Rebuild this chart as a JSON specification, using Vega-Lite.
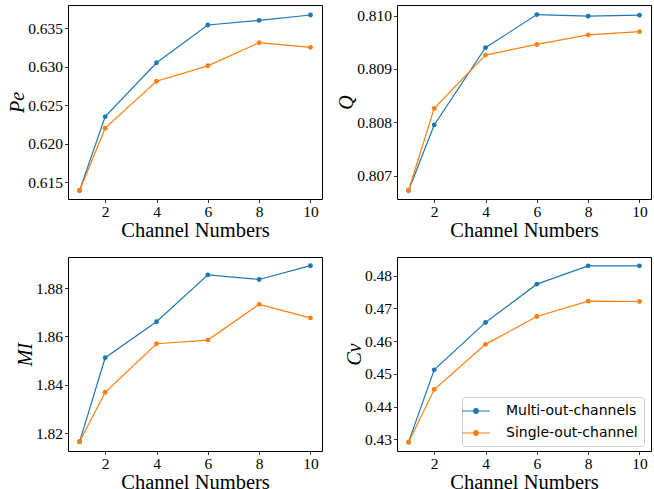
{
  "$schema": "https://vega.github.io/schema/vega-lite/v6.json",
  "autosize": {"type": "none"},
  "padding": {"left": 68, "top": 5, "right": 586, "bottom": 484},
  "background": "white",
  "config": {
    "view": {"stroke": "black", "strokeWidth": 1},
    "style": {"guide-label": {"font": "Liberation Serif", "fontSize": 15.5, "fill": "black"}, "guide-title": {"font": "Liberation Serif", "fill": "black"}},
    "axis": {
      "labelFont": "Liberation Serif", "labelFontSize": 15.5, "labelColor": "black",
      "tickColor": "black", "tickSize": 3.5, "tickWidth": 0.8, "domain": false, "grid": false,
      "titleFont": "Liberation Serif", "titleFontWeight": "normal", "titleColor": "black", "labelPadding": 2
    }
  },
  "data": {"values": [
    {"metric": "Pe", "channels": 1, "series": "Multi-out-channels", "value": 0.6139},
    {"metric": "Pe", "channels": 2, "series": "Multi-out-channels", "value": 0.6235},
    {"metric": "Pe", "channels": 4, "series": "Multi-out-channels", "value": 0.6305},
    {"metric": "Pe", "channels": 6, "series": "Multi-out-channels", "value": 0.6354},
    {"metric": "Pe", "channels": 8, "series": "Multi-out-channels", "value": 0.6360},
    {"metric": "Pe", "channels": 10, "series": "Multi-out-channels", "value": 0.6367},
    {"metric": "Pe", "channels": 1, "series": "Single-out-channel", "value": 0.6139},
    {"metric": "Pe", "channels": 2, "series": "Single-out-channel", "value": 0.6220},
    {"metric": "Pe", "channels": 4, "series": "Single-out-channel", "value": 0.6281},
    {"metric": "Pe", "channels": 6, "series": "Single-out-channel", "value": 0.6301},
    {"metric": "Pe", "channels": 8, "series": "Single-out-channel", "value": 0.6331},
    {"metric": "Pe", "channels": 10, "series": "Single-out-channel", "value": 0.6325},
    {"metric": "Q", "channels": 1, "series": "Multi-out-channels", "value": 0.80672},
    {"metric": "Q", "channels": 2, "series": "Multi-out-channels", "value": 0.80795},
    {"metric": "Q", "channels": 4, "series": "Multi-out-channels", "value": 0.80940},
    {"metric": "Q", "channels": 6, "series": "Multi-out-channels", "value": 0.81002},
    {"metric": "Q", "channels": 8, "series": "Multi-out-channels", "value": 0.80999},
    {"metric": "Q", "channels": 10, "series": "Multi-out-channels", "value": 0.81001},
    {"metric": "Q", "channels": 1, "series": "Single-out-channel", "value": 0.80672},
    {"metric": "Q", "channels": 2, "series": "Single-out-channel", "value": 0.80826},
    {"metric": "Q", "channels": 4, "series": "Single-out-channel", "value": 0.80926},
    {"metric": "Q", "channels": 6, "series": "Single-out-channel", "value": 0.80946},
    {"metric": "Q", "channels": 8, "series": "Single-out-channel", "value": 0.80964},
    {"metric": "Q", "channels": 10, "series": "Single-out-channel", "value": 0.80970},
    {"metric": "MI", "channels": 1, "series": "Multi-out-channels", "value": 1.8164},
    {"metric": "MI", "channels": 2, "series": "Multi-out-channels", "value": 1.8512},
    {"metric": "MI", "channels": 4, "series": "Multi-out-channels", "value": 1.8661},
    {"metric": "MI", "channels": 6, "series": "Multi-out-channels", "value": 1.8855},
    {"metric": "MI", "channels": 8, "series": "Multi-out-channels", "value": 1.8836},
    {"metric": "MI", "channels": 10, "series": "Multi-out-channels", "value": 1.8893},
    {"metric": "MI", "channels": 1, "series": "Single-out-channel", "value": 1.8164},
    {"metric": "MI", "channels": 2, "series": "Single-out-channel", "value": 1.8369},
    {"metric": "MI", "channels": 4, "series": "Single-out-channel", "value": 1.8570},
    {"metric": "MI", "channels": 6, "series": "Single-out-channel", "value": 1.8585},
    {"metric": "MI", "channels": 8, "series": "Single-out-channel", "value": 1.8733},
    {"metric": "MI", "channels": 10, "series": "Single-out-channel", "value": 1.8677},
    {"metric": "Cv", "channels": 1, "series": "Multi-out-channels", "value": 0.4291},
    {"metric": "Cv", "channels": 2, "series": "Multi-out-channels", "value": 0.4512},
    {"metric": "Cv", "channels": 4, "series": "Multi-out-channels", "value": 0.4657},
    {"metric": "Cv", "channels": 6, "series": "Multi-out-channels", "value": 0.4774},
    {"metric": "Cv", "channels": 8, "series": "Multi-out-channels", "value": 0.4830},
    {"metric": "Cv", "channels": 10, "series": "Multi-out-channels", "value": 0.4830},
    {"metric": "Cv", "channels": 1, "series": "Single-out-channel", "value": 0.4291},
    {"metric": "Cv", "channels": 2, "series": "Single-out-channel", "value": 0.4452},
    {"metric": "Cv", "channels": 4, "series": "Single-out-channel", "value": 0.4590},
    {"metric": "Cv", "channels": 6, "series": "Single-out-channel", "value": 0.4675},
    {"metric": "Cv", "channels": 8, "series": "Single-out-channel", "value": 0.4722},
    {"metric": "Cv", "channels": 10, "series": "Single-out-channel", "value": 0.4721}
  ]},
  "columns": 2,
  "bounds": "flush",
  "spacing": {"row": 58, "column": 75},
  "resolve": {"scale": {"y": "independent"}, "legend": {"color": "independent"}},
  "concat": [
    {
      "width": 254, "height": 194,
      "transform": [{"filter": "datum.metric === 'Pe'"}],
      "encoding": {
        "x": {"field": "channels", "type": "quantitative", "scale": {"domain": [0.55, 10.45], "nice": false, "zero": false},
              "axis": {"values": [2, 4, 6, 8, 10], "labelFont": "Liberation Serif", "labelFontSize": 15.5, "title": "Channel Numbers", "titleFontSize": 20.5, "titlePadding": 0}},
        "y": {"field": "value", "type": "quantitative", "scale": {"domain": [0.6128, 0.6380], "nice": false, "zero": false},
              "axis": {"values": [0.615, 0.62, 0.625, 0.63, 0.635], "format": ".3f", "labelFont": "Liberation Serif", "labelFontSize": 15.5, "title": "Pe", "titleFontStyle": "italic", "titleFontSize": 20, "titlePadding": 0}},
        "color": {"field": "series", "type": "nominal", "scale": {"domain": ["Multi-out-channels", "Single-out-channel"], "range": ["#1f77b4", "#ff7f0e"]}, "legend": null}
      },
      "layer": [
        {"mark": {"type": "line", "strokeWidth": 1.2}},
        {"mark": {"type": "point", "filled": true, "opacity": 1, "size": 24}}
      ]
    },
    {
      "width": 254, "height": 194,
      "transform": [{"filter": "datum.metric === 'Q'"}],
      "encoding": {
        "x": {"field": "channels", "type": "quantitative", "scale": {"domain": [0.55, 10.45], "nice": false, "zero": false},
              "axis": {"values": [2, 4, 6, 8, 10], "labelFont": "Liberation Serif", "labelFontSize": 15.5, "title": "Channel Numbers", "titleFontSize": 20.5, "titlePadding": 0}},
        "y": {"field": "value", "type": "quantitative", "scale": {"domain": [0.80656, 0.8102], "nice": false, "zero": false},
              "axis": {"values": [0.807, 0.808, 0.809, 0.81], "format": ".3f", "labelFont": "Liberation Serif", "labelFontSize": 15.5, "title": "Q", "titleFontStyle": "italic", "titleFontSize": 20, "titlePadding": 0}},
        "color": {"field": "series", "type": "nominal", "scale": {"domain": ["Multi-out-channels", "Single-out-channel"], "range": ["#1f77b4", "#ff7f0e"]}, "legend": null}
      },
      "layer": [
        {"mark": {"type": "line", "strokeWidth": 1.2}},
        {"mark": {"type": "point", "filled": true, "opacity": 1, "size": 24}}
      ]
    },
    {
      "width": 254, "height": 194,
      "transform": [{"filter": "datum.metric === 'MI'"}],
      "encoding": {
        "x": {"field": "channels", "type": "quantitative", "scale": {"domain": [0.55, 10.45], "nice": false, "zero": false},
              "axis": {"values": [2, 4, 6, 8, 10], "labelFont": "Liberation Serif", "labelFontSize": 15.5, "title": "Channel Numbers", "titleFontSize": 20.5, "titlePadding": 0}},
        "y": {"field": "value", "type": "quantitative", "scale": {"domain": [1.8126, 1.8929], "nice": false, "zero": false},
              "axis": {"values": [1.82, 1.84, 1.86, 1.88], "format": ".2f", "labelFont": "Liberation Serif", "labelFontSize": 15.5, "title": "MI", "titleFontStyle": "italic", "titleFontSize": 20, "titlePadding": 0}},
        "color": {"field": "series", "type": "nominal", "scale": {"domain": ["Multi-out-channels", "Single-out-channel"], "range": ["#1f77b4", "#ff7f0e"]}, "legend": null}
      },
      "layer": [
        {"mark": {"type": "line", "strokeWidth": 1.2}},
        {"mark": {"type": "point", "filled": true, "opacity": 1, "size": 24}}
      ]
    },
    {
      "width": 254, "height": 194,
      "transform": [{"filter": "datum.metric === 'Cv'"}],
      "encoding": {
        "x": {"field": "channels", "type": "quantitative", "scale": {"domain": [0.55, 10.45], "nice": false, "zero": false},
              "axis": {"values": [2, 4, 6, 8, 10], "labelFont": "Liberation Serif", "labelFontSize": 15.5, "title": "Channel Numbers", "titleFontSize": 20.5, "titlePadding": 0}},
        "y": {"field": "value", "type": "quantitative", "scale": {"domain": [0.4264, 0.4857], "nice": false, "zero": false},
              "axis": {"values": [0.43, 0.44, 0.45, 0.46, 0.47, 0.48], "format": ".2f", "labelFont": "Liberation Serif", "labelFontSize": 15.5, "title": "Cv", "titleFontStyle": "italic", "titleFontSize": 20, "titlePadding": 0}},
        "color": {"field": "series", "type": "nominal", "scale": {"domain": ["Multi-out-channels", "Single-out-channel"], "range": ["#1f77b4", "#ff7f0e"]},
                  "legend": {
                    "title": null, "orient": "none", "legendX": 65, "legendY": 140,
                    "labelFont": "DejaVu Sans", "labelFontSize": 14, "labelColor": "black",
                    "symbolType": "M-2,0H2M-0.33,0A0.33,0.33 0 1,1 0.33,0A0.33,0.33 0 1,1 -0.33,0",
                    "symbolSize": 196, "symbolStrokeWidth": 1.2,
                    "labelOffset": 22, "rowPadding": 7, "padding": 6,
                    "strokeColor": "#cccccc", "fillColor": "white", "cornerRadius": 3,
                    "encode": {"symbols": {"update": {
                      "fill": {"signal": "datum.value === 'Multi-out-channels' ? '#1f77b4' : '#ff7f0e'"},
                      "stroke": {"signal": "datum.value === 'Multi-out-channels' ? '#1f77b4' : '#ff7f0e'"},
                      "opacity": {"value": 1}, "fillOpacity": {"value": 1}, "strokeOpacity": {"value": 1}
                    }}}
                  }}
      },
      "layer": [
        {"mark": {"type": "line", "strokeWidth": 1.2}},
        {"mark": {"type": "point", "filled": true, "opacity": 1, "size": 24}}
      ]
    }
  ]
}
